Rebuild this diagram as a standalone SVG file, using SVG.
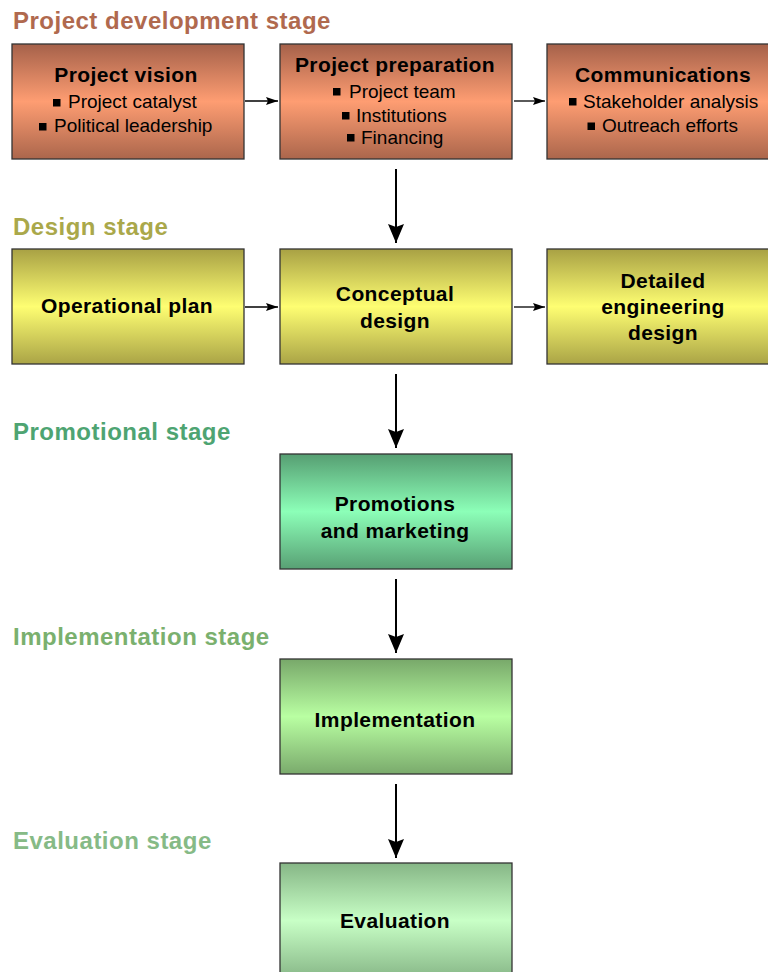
<svg xmlns="http://www.w3.org/2000/svg" width="768" height="972" viewBox="0 0 768 972">
<defs>
<linearGradient id="gDev" x1="0" y1="0" x2="0" y2="1">
<stop offset="0" stop-color="#a5614a"/><stop offset="0.5" stop-color="#fe9d72"/><stop offset="1" stop-color="#ab664c"/>
</linearGradient>
<linearGradient id="gDes" x1="0" y1="0" x2="0" y2="1">
<stop offset="0" stop-color="#a8a144"/><stop offset="0.5" stop-color="#fefe72"/><stop offset="1" stop-color="#aaa446"/>
</linearGradient>
<linearGradient id="gPro" x1="0" y1="0" x2="0" y2="1">
<stop offset="0" stop-color="#569e72"/><stop offset="0.5" stop-color="#8cffb8"/><stop offset="1" stop-color="#58a074"/>
</linearGradient>
<linearGradient id="gImp" x1="0" y1="0" x2="0" y2="1">
<stop offset="0" stop-color="#78a86a"/><stop offset="0.5" stop-color="#b9ffa2"/><stop offset="1" stop-color="#7aaa6c"/>
</linearGradient>
<linearGradient id="gEva" x1="0" y1="0" x2="0" y2="1">
<stop offset="0" stop-color="#86b686"/><stop offset="0.5" stop-color="#c8ffc6"/><stop offset="1" stop-color="#88b888"/>
</linearGradient>
<marker id="big" markerUnits="userSpaceOnUse" markerWidth="20" markerHeight="18" refX="19" refY="8" orient="auto" viewBox="0 0 20 16">
<path d="M0,0 L19,8 L0,16 L3,8 Z" fill="#000"/>
</marker>
<marker id="small" markerUnits="userSpaceOnUse" markerWidth="13" markerHeight="9" refX="12" refY="4" orient="auto" viewBox="0 0 13 8">
<path d="M0,0 L12,4 L0,8 L2,4 Z" fill="#000"/>
</marker>
</defs>
<style>
.box{stroke:#333;stroke-width:1.3}
.stage{font-family:"Liberation Sans",Arial,Helvetica,sans-serif;font-weight:bold;font-size:24px;letter-spacing:0.5px}
.title{font-family:"Liberation Sans",Arial,Helvetica,sans-serif;font-weight:bold;font-size:21px;letter-spacing:0.4px;text-anchor:middle;fill:#000}
.item{font-family:"Liberation Sans",Arial,Helvetica,sans-serif;font-size:19px;fill:#000}
.big{stroke:#000;stroke-width:2;fill:none;marker-end:url(#big)}
.small{stroke:#000;stroke-width:1.3;fill:none;marker-end:url(#small)}
</style>
<rect width="768" height="972" fill="#fff"/>

<g id="stage-labels">
<text class="stage" x="13" y="29" fill="#b0694e">Project development stage</text>
<text class="stage" x="13" y="235" fill="#aaa84a">Design stage</text>
<text class="stage" x="13" y="440" fill="#4ea472">Promotional stage</text>
<text class="stage" x="13" y="645" fill="#7ab06e">Implementation stage</text>
<text class="stage" x="13" y="849" fill="#86ba86">Evaluation stage</text>
</g>

<g id="project-vision">
<rect class="box" x="12" y="44" width="232" height="115" fill="url(#gDev)"/>
<text class="title" x="126" y="82">Project vision</text>
<rect x="53" y="99" width="7.5" height="7.5"/>
<text class="item" x="68" y="108">Project catalyst</text>
<rect x="39" y="123" width="7.5" height="7.5"/>
<text class="item" x="54" y="132">Political leadership</text>
</g>

<g id="project-preparation">
<rect class="box" x="280" y="44" width="232" height="115" fill="url(#gDev)"/>
<text class="title" x="395" y="72">Project preparation</text>
<rect x="333" y="88" width="7.5" height="7.5"/>
<text class="item" x="349" y="98">Project team</text>
<rect x="342" y="112" width="7.5" height="7.5"/>
<text class="item" x="356" y="122">Institutions</text>
<rect x="347" y="134" width="7.5" height="7.5"/>
<text class="item" x="361" y="143.5">Financing</text>
</g>

<g id="communications">
<rect class="box" x="547" y="44" width="232" height="115" fill="url(#gDev)"/>
<text class="title" x="663" y="82">Communications</text>
<rect x="569" y="98" width="7.5" height="7.5"/>
<text class="item" x="583" y="107.5">Stakeholder analysis</text>
<rect x="587.5" y="122.5" width="7.5" height="7.5"/>
<text class="item" x="602" y="132">Outreach efforts</text>
</g>

<g id="operational-plan">
<rect class="box" x="12" y="249" width="232" height="115" fill="url(#gDes)"/>
<text class="title" x="127" y="313">Operational plan</text>
</g>

<g id="conceptual-design">
<rect class="box" x="280" y="249" width="232" height="115" fill="url(#gDes)"/>
<text class="title" x="395" y="301">Conceptual</text>
<text class="title" x="395" y="328">design</text>
</g>

<g id="detailed-engineering-design">
<rect class="box" x="547" y="249" width="232" height="115" fill="url(#gDes)"/>
<text class="title" x="663" y="288">Detailed</text>
<text class="title" x="663" y="314">engineering</text>
<text class="title" x="663" y="340">design</text>
</g>

<g id="promotions">
<rect class="box" x="280" y="454" width="232" height="115" fill="url(#gPro)"/>
<text class="title" x="395" y="511">Promotions</text>
<text class="title" x="395" y="538">and marketing</text>
</g>

<g id="implementation">
<rect class="box" x="280" y="659" width="232" height="115" fill="url(#gImp)"/>
<text class="title" x="395" y="727">Implementation</text>
</g>

<g id="evaluation">
<rect class="box" x="280" y="863" width="232" height="115" fill="url(#gEva)"/>
<text class="title" x="395" y="928">Evaluation</text>
</g>

<g id="connectors">
<line class="small" x1="245" y1="101" x2="278" y2="101"/>
<line class="small" x1="514" y1="101" x2="545" y2="101"/>
<line class="small" x1="245" y1="307" x2="278" y2="307"/>
<line class="small" x1="514" y1="307" x2="545" y2="307"/>
<line class="big" x1="396" y1="169" x2="396" y2="243"/>
<line class="big" x1="396" y1="374" x2="396" y2="448"/>
<line class="big" x1="396" y1="579" x2="396" y2="653"/>
<line class="big" x1="396" y1="784" x2="396" y2="858"/>
</g>
</svg>
